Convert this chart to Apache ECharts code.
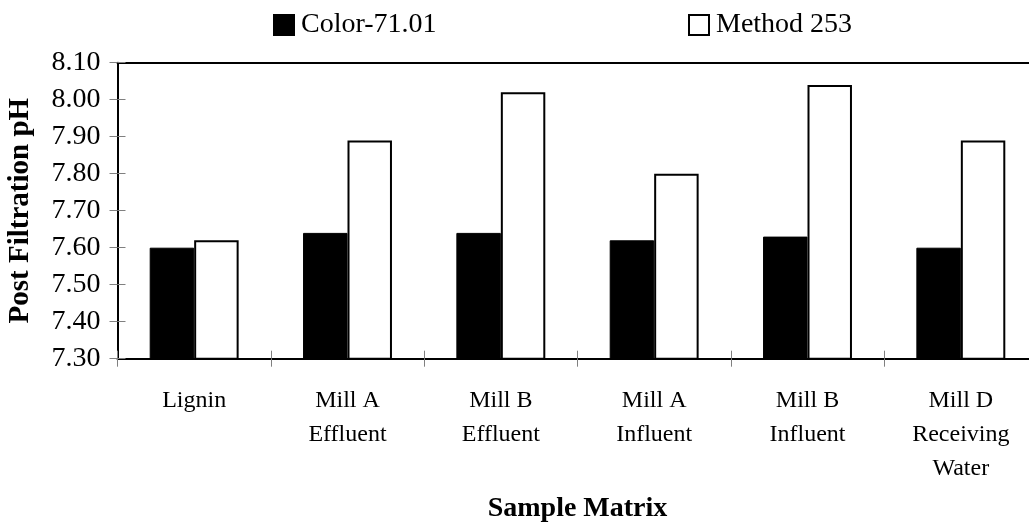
<!DOCTYPE html>
<html>
<head>
<meta charset="utf-8">
<script src="https://cdn.jsdelivr.net/npm/echarts@6/dist/echarts.min.js"></script>
<style>
  html, body { margin: 0; padding: 0; background: #fff; }
  #chart { width: 1029px; height: 529px; }
</style>
</head>
<body>
<div id="chart"></div>
<script>
// Sample matrices (category axis), multi-line labels
const categories = ['Lignin', 'Mill A\nEffluent', 'Mill B\nEffluent', 'Mill A\nInfluent', 'Mill B\nInfluent', 'Mill D\nReceiving\nWater'];
// Post-filtration pH by method
const color7101 = [7.60, 7.64, 7.64, 7.62, 7.63, 7.60];
const method253 = [7.62, 7.89, 8.02, 7.80, 8.04, 7.89];
// Value axis range
const yMin = 7.3, yMax = 8.1, yStep = 0.1;

const FONT = 'Liberation Serif';
const chart = echarts.init(document.getElementById('chart'));

const tickStyle = { color: '#808080', width: 1 };
// Plot rectangle shared by the main grid and the overlay grids (inner tick halves, top frame line)
const plotRect = { left: 117.5, top: 62.7, width: 920, height: 296, outerBoundsMode: 'none', show: false };

chart.setOption({
  animation: false,
  backgroundColor: '#fff',
  textStyle: { fontFamily: FONT, color: '#000' },
  legend: [
    {
      data: ['Color-71.01'], left: 268, top: 6,
      itemWidth: 20, itemHeight: 20, icon: 'rect', itemGap: 0,
      textStyle: { fontFamily: FONT, fontSize: 28, color: '#000', padding: [2, 0, 0, 2] }
    },
    {
      data: ['Method 253'], left: 683, top: 6,
      itemWidth: 20, itemHeight: 20, icon: 'rect', itemGap: 0,
      textStyle: { fontFamily: FONT, fontSize: 28, color: '#000', padding: [2, 0, 0, 2] }
    }
  ],
  grid: [Object.assign({}, plotRect), Object.assign({}, plotRect), Object.assign({}, plotRect)],
  xAxis: [
    {
      type: 'category', data: categories, gridIndex: 0,
      name: 'Sample Matrix', nameLocation: 'middle', nameGap: 136,
      nameTextStyle: { fontFamily: FONT, fontSize: 28, fontWeight: 'bold', color: '#000' },
      axisLine: { lineStyle: { color: '#000', width: 2 } },
      axisTick: { show: true, length: 8, lineStyle: tickStyle },
      axisLabel: { interval: 0, margin: 25, fontFamily: FONT, fontSize: 24, lineHeight: 34, color: '#000', align: 'center' }
    },
    {
      type: 'category', data: categories, gridIndex: 1, position: 'bottom',
      axisLine: { show: false },
      axisTick: { show: true, inside: true, length: 8, lineStyle: tickStyle },
      axisLabel: { show: false }
    },
    {
      // top frame line of the plot area
      type: 'category', data: categories, gridIndex: 2, position: 'top',
      axisLine: { show: true, lineStyle: { color: '#000', width: 2 } },
      axisTick: { show: false },
      axisLabel: { show: false }
    }
  ],
  yAxis: [
    {
      type: 'value', min: yMin, max: yMax, interval: yStep, gridIndex: 0,
      name: 'Post Filtration pH', nameLocation: 'middle', nameGap: 82,
      nameTextStyle: { fontFamily: FONT, fontSize: 29, fontWeight: 'bold', color: '#000' },
      axisLine: { show: true, lineStyle: { color: '#000', width: 2 } },
      axisTick: { show: true, length: 8, lineStyle: tickStyle },
      axisLabel: { margin: 17, fontFamily: FONT, fontSize: 28, color: '#000', formatter: v => v.toFixed(2) },
      splitLine: { show: false }
    },
    {
      type: 'value', min: yMin, max: yMax, interval: yStep, gridIndex: 1, position: 'left',
      axisLine: { show: false },
      axisTick: { show: true, inside: true, length: 8, lineStyle: tickStyle },
      axisLabel: { show: false },
      splitLine: { show: false }
    },
    {
      type: 'value', min: yMin, max: yMax, gridIndex: 2, show: false
    }
  ],
  series: [
    {
      name: 'Color-71.01', type: 'bar', data: color7101,
      barGap: '0%', barCategoryGap: '42%',
      itemStyle: { color: '#000', borderColor: '#000', borderWidth: 1 }
    },
    {
      name: 'Method 253', type: 'bar', data: method253,
      barGap: '0%', barCategoryGap: '42%',
      itemStyle: { color: '#fff', borderColor: '#000', borderWidth: 2 }
    }
  ]
});
</script>
</body>
</html>
